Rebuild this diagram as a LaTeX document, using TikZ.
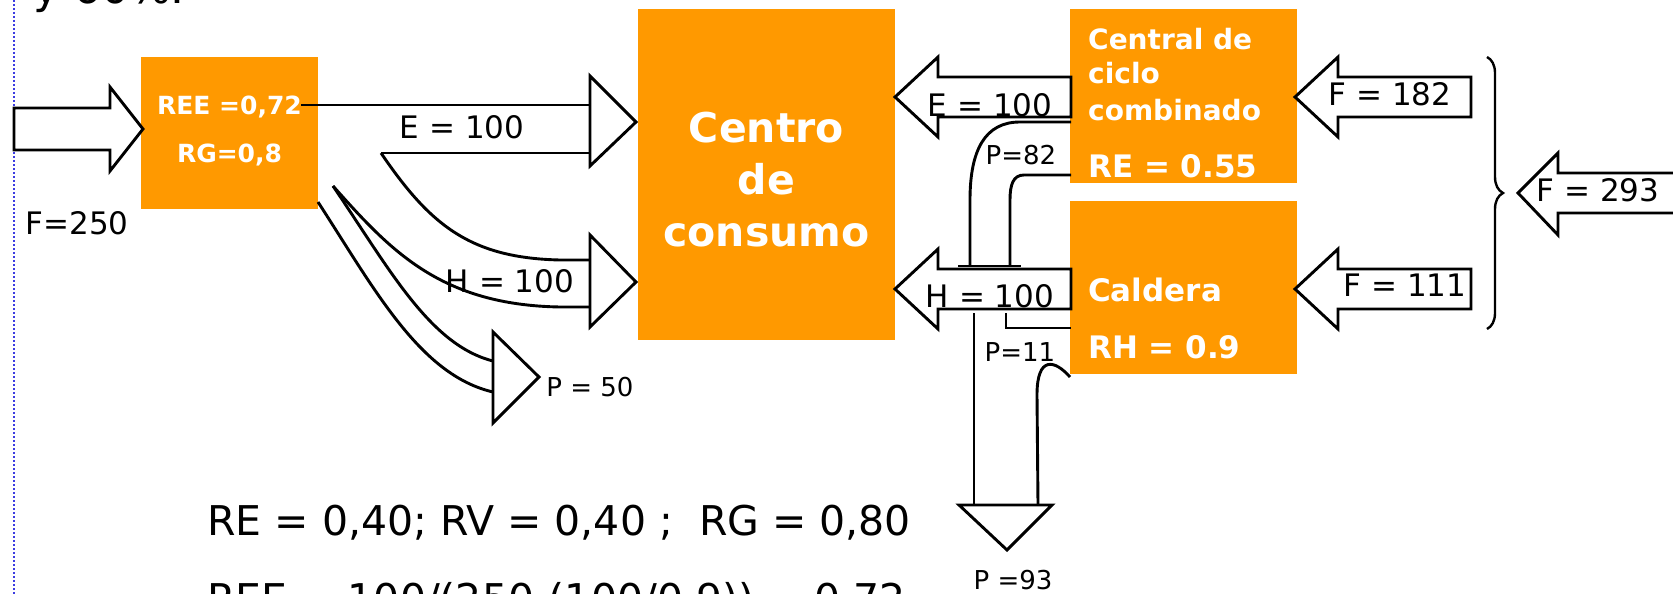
\documentclass[tikz,border=0pt]{standalone}
\usepackage{fontspec}
\setmainfont{DejaVu Sans}
\usetikzlibrary{decorations.pathreplacing}
\definecolor{naranja}{RGB}{255,153,0}
\definecolor{azulpunto}{RGB}{60,60,225}

\begin{document}
\begin{tikzpicture}[x=1pt, y=-1pt,
    caja/.style={fill=naranja, inner sep=0pt},
    blanco/.style={text=white, inner sep=0pt, anchor=base west,
      font=\bfseries\fontsize{#1}{#1}\selectfont},
    flecha/.style={draw, line width=2.9pt},
    rotulo/.style={inner sep=0pt, font=\fontsize{31}{31}\selectfont},
    rotulop/.style={inner sep=0pt, font=\fontsize{26}{26}\selectfont},
    texto/.style={inner sep=0pt, anchor=base west, font=\fontsize{41}{41}\selectfont}]
    \useasboundingbox (0,0) rectangle (1673,594);
    \clip (0,0) rectangle (1673,594);

    % margen de la diapositiva
    \draw[azulpunto, line width=2pt, dash pattern=on 2pt off 2pt] (14,0) -- (14,594);
    \node[texto, font=\fontsize{44}{44}\selectfont] (encabezado) at (33,4) {y 60\%.};

    % bloques
    \node[caja, minimum width=177pt, minimum height=152pt] (cogen) at (229.5,133) {};
    \node[text=white, align=center, inner sep=0pt,
      font=\bfseries\fontsize{25}{48}\selectfont] (cogentxt) at (229.5,131) {REE =0,72\\RG=0,8};
    \node[caja, minimum width=257pt, minimum height=331pt] (centro) at (766.5,174.5) {};
    \node[text=white, align=center, inner sep=0pt,
      font=\bfseries\fontsize{41}{52}\selectfont] (centrotxt) at (766.5,180) {Centro\\de\\consumo};
    \node[caja, minimum width=227pt, minimum height=174pt] (central) at (1183.5,96) {};
    \node[caja, minimum width=227pt, minimum height=173pt] (caldera) at (1183.5,287.5) {};

    \node[blanco=28] (central1) at (1088,49) {Central de};
    \node[blanco=28] (central2) at (1088,84) {ciclo};
    \node[blanco=28] (central3) at (1088,120) {combinado};
    \node[blanco=31] (central4) at (1088,177) {RE = 0.55};
    \node[blanco=31] (caldera1) at (1088,301) {Caldera};
    \node[blanco=31] (caldera2) at (1088,358) {RH = 0.9};

    % entrada de combustible
    \draw[flecha] (14,108) -- (110,108) -- (110,87) -- (143,129) -- (110,171)
      -- (110,150) -- (14,150) -- cycle;

    % electricidad y calor de la cogeneracion
    \draw[flecha] (301,105) -- (590,105);
    \draw[flecha] (381,153) -- (590,153);
    \draw[flecha] (590,76) -- (636,122) -- (590,166) -- cycle;
    \draw[flecha] (381,153) .. controls (430,225) and (470,258) .. (560,260) -- (590,260);
    \draw[flecha] (333,186) .. controls (390,250) and (440,305) .. (560,307) -- (590,307);
    \draw[flecha] (590,235) -- (636,282) -- (590,327) -- cycle;

    % perdidas de la cogeneracion
    \draw[flecha] (333,186) .. controls (390,270) and (430,345) .. (493,361);
    \draw[flecha] (318,202) .. controls (375,290) and (420,375) .. (493,392);
    \draw[flecha] (493,332) -- (539,377) -- (493,423) -- cycle;

    % flechas hacia la izquierda
    \foreach \x/\y in {1071/97, 1071/289, 1471/97, 1471/289}
      \draw[flecha] (\x,\y-20) -- ++(-133,0) -- ++(0,-20) -- ++(-43,40) -- ++(43,40)
        -- ++(0,-20) -- ++(133,0) -- cycle;
    \draw[flecha] (1690,173) -- (1558,173) -- (1558,153) -- (1518,193) -- (1558,235)
      -- (1558,213) -- (1690,213);
    \draw[decorate, decoration={brace, amplitude=16pt}, line width=2.4pt] (1487,57) -- (1487,329);

    % perdidas de la central y de la caldera
    \draw[flecha] (1071,122) -- (1020,122) .. controls (985,122) and (970,150) .. (970,200) -- (970,265);
    \draw[flecha] (1071,175) -- (1024,175) .. controls (1013,175) and (1010,185) .. (1010,200) -- (1010,265);
    \draw[flecha] (958,266) -- (1021,266);
    \draw[flecha] (1006,313) -- (1006,328) -- (1071,328);
    \draw[flecha] (974,313) -- (974,505);
    \draw[flecha] (1070,377) .. controls (1055,360) and (1037,355) .. (1037,395) -- (1038,505);
    \draw[flecha] (959,505) -- (1052,505) -- (1007,550) -- cycle;

    % rotulos
    \node[rotulo] (f250) at (77,223) {F=250};
    \node[rotulo] (e1) at (462,127) {E = 100};
    \node[rotulo] (h1) at (510,281) {H = 100};
    \node[rotulop] (p50) at (590,387) {P = 50};
    \node[rotulo] (e2) at (990,105) {E = 100};
    \node[rotulo] (h2) at (990,296) {H = 100};
    \node[rotulop] (p82) at (1021,155) {P=82};
    \node[rotulop] (p11) at (1020,352) {P=11};
    \node[rotulop] (p93) at (1013,580) {P =93};
    \node[rotulo] (f182) at (1390,94) {F = 182};
    \node[rotulo] (f111) at (1405,285) {F = 111};
    \node[rotulo] (f293) at (1598,190) {F = 293};

    \node[texto] (rend) at (207,535) {RE = 0,40; RV = 0,40 ;\ \ RG = 0,80};
    \node[texto] (ree) at (207,613) {REE = 100/(250-(100/0.9)) = 0,72};
\end{tikzpicture}
\end{document}
